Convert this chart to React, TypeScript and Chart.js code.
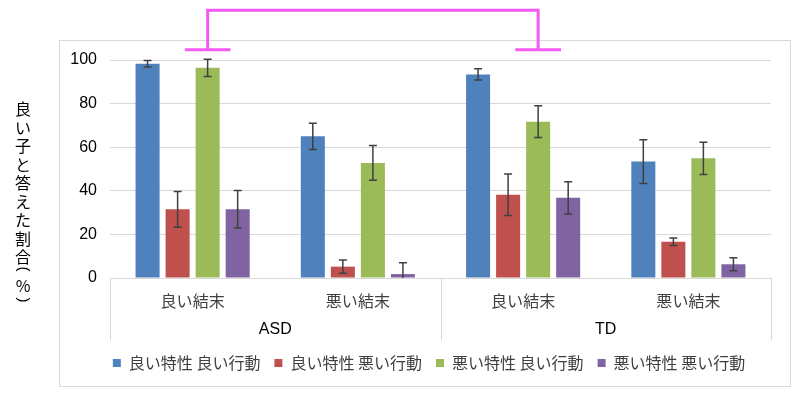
import { useEffect, useRef } from 'react';
import { Chart, registerables } from 'chart.js';

Chart.register(...registerables);

const categories = ['良い結末', '悪い結末', '良い結末', '悪い結末'];
const groups = ['ASD', 'TD'];
const seriesNames = ['良い特性 良い行動', '良い特性 悪い行動', '悪い特性 良い行動', '悪い特性 悪い行動'];
const goodTraitGoodAct = [98.3, 65.0, 93.4, 53.4];
const goodTraitBadAct = [31.5, 5.2, 38.2, 16.6];
const badTraitGoodAct = [96.4, 52.8, 71.7, 54.9];
const badTraitBadAct = [31.5, 1.8, 36.8, 6.3];
const errGoodTraitGoodAct = [1.5, 6.0, 2.6, 10.0];
const errGoodTraitBadAct = [8.2, 3.0, 9.5, 1.7];
const errBadTraitGoodAct = [4.0, 8.0, 7.3, 7.4];
const errBadTraitBadAct = [8.6, 5.2, 7.4, 3.0];
const seriesColors = ['#4F81BD', '#C0504D', '#9BBB59', '#8064A2'];
const yTitle = '良い子と答えた割合(%)';
// significance bracket: between series 2 bars of category 0 and 2
const bracketSeries = 2;
const bracketFrom = 0;
const bracketTo = 2;
const bracketLow = 104.7;
const bracketHigh = 122.8;

const values = [goodTraitGoodAct, goodTraitBadAct, badTraitGoodAct, badTraitBadAct];
const errors = [errGoodTraitGoodAct, errGoodTraitBadAct, errBadTraitGoodAct, errBadTraitBadAct];

const CJK = '"Noto Sans CJK JP", "Noto Sans", sans-serif';
const LAT = '"Liberation Sans", Arial, sans-serif';

const errorBarPlugin = {
  id: 'errorBars',
  afterDatasetsDraw(chart: any) {
    const ctx = chart.ctx;
    const y = chart.scales.y;
    ctx.save();
    ctx.strokeStyle = '#404040';
    ctx.lineWidth = 1.5;
    values.forEach((vals, i) => {
      const meta = chart.getDatasetMeta(i);
      meta.data.forEach((bar: any, j: number) => {
        const v = vals[j];
        const e = errors[i][j];
        const top = y.getPixelForValue(v + e);
        const bot = y.getPixelForValue(Math.max(0, v - e));
        const x = bar.x;
        ctx.beginPath();
        ctx.moveTo(x, top);
        ctx.lineTo(x, bot);
        ctx.moveTo(x - 4, top);
        ctx.lineTo(x + 4, top);
        if (v - e > 0) {
          ctx.moveTo(x - 4, bot);
          ctx.lineTo(x + 4, bot);
        }
        ctx.stroke();
      });
    });
    ctx.restore();
  },
};

const legendShiftPlugin = {
  id: 'legendShift',
  beforeDraw(chart: any) {
    if (chart.legend) {
      chart.legend.left = 87;
    }
  },
};

const decorPlugin = {
  id: 'decor',
  afterDraw(chart: any) {
    const ctx = chart.ctx;
    const xs = chart.scales.x;
    const ys = chart.scales.y;
    ctx.save();
    // outer frame
    ctx.strokeStyle = '#d9d9d9';
    ctx.lineWidth = 1;
    ctx.strokeRect(59.5, 40.5, 731, 346);

    // group separators and labels
    const n = categories.length;
    const per = n / groups.length;
    const bounds: number[] = [];
    for (let g = 0; g <= groups.length; g++) {
      const idx = g * per;
      let px;
      if (idx === 0) px = xs.left;
      else if (idx === n) px = xs.right;
      else px = (xs.getPixelForValue(idx - 1) + xs.getPixelForValue(idx)) / 2;
      bounds.push(px);
    }
    ctx.strokeStyle = '#d9d9d9';
    bounds.forEach((px) => {
      ctx.beginPath();
      ctx.moveTo(Math.round(px) + 0.5, xs.top);
      ctx.lineTo(Math.round(px) + 0.5, xs.top + 62);
      ctx.stroke();
    });
    ctx.fillStyle = '#000000';
    ctx.font = `16px ${LAT}`;
    ctx.textAlign = 'center';
    ctx.textBaseline = 'middle';
    groups.forEach((g, i) => {
      ctx.fillText(g, (bounds[i] + bounds[i + 1]) / 2, xs.top + 52);
    });

    // vertical y-axis title (upright characters, rotated parentheses)
    ctx.fillStyle = '#000000';
    ctx.font = `16px ${CJK}`;
    const chars = Array.from(yTitle);
    let cy = 109;
    chars.forEach((c, k) => {
      if (k > 0) {
        if (c === '(') cy += 12;
        else if (c === '%') cy += 17;
        else if (c === ')') cy += 14;
        else cy += 18.5;
      }
      if (c === '(' || c === ')') {
        ctx.save();
        ctx.translate(23, cy);
        ctx.rotate(Math.PI / 2);
        ctx.font = `15px ${LAT}`;
        ctx.fillText(c, 0, 0);
        ctx.restore();
      } else {
        ctx.fillText(c, 23, cy);
      }
    });

    // significance bracket
    const meta = chart.getDatasetMeta(bracketSeries);
    const b1 = meta.data[bracketFrom];
    const b2 = meta.data[bracketTo];
    const yl = ys.getPixelForValue(bracketLow);
    const yh = ys.getPixelForValue(bracketHigh);
    const hw = b1.width * 0.95;
    ctx.strokeStyle = '#F55AF5';
    ctx.lineWidth = 3;
    ctx.beginPath();
    ctx.moveTo(b1.x - hw, yl);
    ctx.lineTo(b1.x + hw, yl);
    ctx.moveTo(b2.x - hw, yl);
    ctx.lineTo(b2.x + hw, yl);
    ctx.moveTo(b1.x, yl);
    ctx.lineTo(b1.x, yh);
    ctx.lineTo(b2.x, yh);
    ctx.lineTo(b2.x, yl);
    ctx.stroke();
    ctx.restore();
  },
};

export default function App() {
  const ref = useRef<HTMLCanvasElement | null>(null);
  useEffect(() => {
    if (!ref.current) return;
    const chart = new Chart(ref.current, {
      type: 'bar',
      data: {
        labels: categories,
        datasets: values.map((vals, i) => ({
          label: seriesNames[i],
          data: vals,
          backgroundColor: seriesColors[i],
          borderWidth: 0,
          barPercentage: 0.8,
          categoryPercentage: 0.727,
        })),
      },
      options: {
        responsive: false,
        animation: false,
        layout: { padding: { left: 60, right: 29, top: 60, bottom: 12 } },
        plugins: {
          legend: {
            position: 'bottom',
            labels: {
              boxWidth: 8,
              boxHeight: 8,
              padding: 14,
              color: '#404040',
              font: { family: CJK, size: 16 },
            },
          },
          tooltip: { enabled: false },
        },
        scales: {
          x: {
            grid: { display: false },
            border: { display: true, color: '#d9d9d9' },
            ticks: {
              font: { family: CJK, size: 16 },
              color: '#404040',
              padding: 5,
              maxRotation: 0,
              autoSkip: false,
            },
            afterFit: (s: any) => {
              s.height = 63;
            },
          },
          y: {
            min: 0,
            max: 100,
            ticks: {
              stepSize: 20,
              font: { family: LAT, size: 16 },
              color: '#000000',
              padding: 13,
            },
            grid: { color: '#d9d9d9', drawTicks: false },
            border: { display: false },
            afterFit: (s: any) => {
              s.width = 50;
            },
          },
        },
      },
      plugins: [errorBarPlugin, legendShiftPlugin, decorPlugin],
    });
    return () => chart.destroy();
  }, []);
  return (
    <div style={{ position: 'absolute', left: 0, top: 0, width: 800, height: 393, background: '#fff' }}>
      <canvas ref={ref} width={800} height={393} style={{ display: 'block' }} />
    </div>
  );
}
